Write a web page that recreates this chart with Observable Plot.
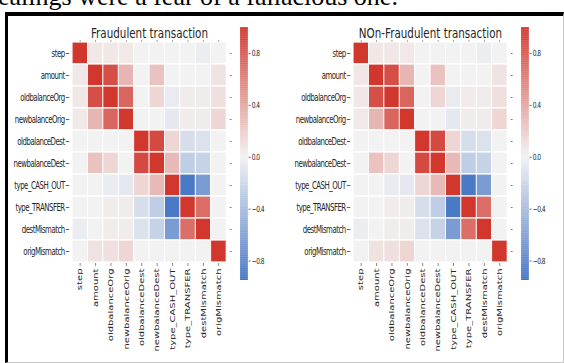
<!DOCTYPE html>
<html>
<head>
<meta charset="utf-8">
<script src="https://cdn.jsdelivr.net/npm/d3@7"></script>
<script src="https://cdn.jsdelivr.net/npm/@observablehq/plot@0.6"></script>
<style>
  html, body { margin: 0; padding: 0; background: #fff; width: 564px; height: 363px; overflow: hidden; position: relative; }
  #toptext { position: absolute; left: -15px; top: -18px; font-family: "Liberation Serif", serif; font-size: 26px; color: #000; white-space: nowrap; }
  #frame { position: absolute; left: 5px; top: 12px; width: 555px; height: 346px; border-left: 3px solid #000; border-top: 4px solid #000; border-right: 1px solid #c8c8c8; border-bottom: 1px solid #c8c8c8; }
  .panel { position: absolute; top: 0; height: 363px; transform: scaleX(0.7); transform-origin: 0 0; }
  .panel > div { position: absolute; top: 0; }
  svg { overflow: visible; }
  g[aria-label="y-axis tick label"] text { letter-spacing: -0.7px; }
</style>
</head>
<body>
<div id="toptext">dealings were a fear of a fallacious one.</div>
<div id="frame"></div>
<div class="panel" id="left" style="left:0px; width:403px;"><div class="hm"></div><div class="cb"></div></div>
<div class="panel" id="right" style="left:281px; width:403px;"><div class="hm"></div><div class="cb"></div></div>
<script>
// ---- data ----
const features = ["step", "amount", "oldbalanceOrg", "newbalanceOrig", "oldbalanceDest",
  "newbalanceDest", "type_CASH_OUT", "type_TRANSFER", "destMismatch", "origMismatch"];

const fraudTitle = "Fraudulent transaction";
const nonFraudTitle = "NOn-Fraudulent transaction";

const fraudCorr = [
  [1.00, 0.06, 0.06, 0.05, 0.00, 0.00, 0.00, 0.00, -0.04, 0.00],
  [0.06, 1.00, 0.87, 0.32, 0.00, 0.25, 0.00, 0.00, 0.00, 0.08],
  [0.06, 0.87, 1.00, 0.75, 0.00, 0.15, -0.05, 0.04, 0.03, 0.10],
  [0.05, 0.32, 0.75, 1.00, 0.00, 0.00, -0.07, 0.03, 0.03, 0.15],
  [0.00, 0.00, 0.00, 0.00, 1.00, 0.90, 0.15, -0.15, -0.12, 0.00],
  [0.00, 0.25, 0.15, 0.00, 0.90, 1.00, 0.30, -0.28, -0.24, 0.00],
  [0.00, 0.00, -0.05, -0.07, 0.15, 0.30, 1.00, -0.92, -0.65, 0.00],
  [0.00, 0.00, 0.04, 0.03, -0.15, -0.28, -0.92, 1.00, 0.70, 0.00],
  [-0.04, 0.00, 0.03, 0.03, -0.12, -0.24, -0.65, 0.70, 1.00, 0.00],
  [0.00, 0.08, 0.10, 0.15, 0.00, 0.00, 0.00, 0.00, 0.00, 1.00]
];

const nonFraudCorr = [
  [1.00, 0.06, 0.06, 0.05, 0.00, 0.00, 0.00, 0.00, -0.04, 0.00],
  [0.06, 1.00, 0.87, 0.32, 0.00, 0.25, 0.00, 0.00, 0.00, 0.08],
  [0.06, 0.87, 1.00, 0.75, 0.00, 0.15, -0.05, 0.04, 0.03, 0.10],
  [0.05, 0.32, 0.75, 1.00, 0.00, 0.00, -0.07, 0.03, 0.03, 0.15],
  [0.00, 0.00, 0.00, 0.00, 1.00, 0.90, 0.15, -0.15, -0.12, 0.00],
  [0.00, 0.25, 0.15, 0.00, 0.90, 1.00, 0.30, -0.28, -0.24, 0.00],
  [0.00, 0.00, -0.05, -0.07, 0.15, 0.30, 1.00, -0.92, -0.65, 0.00],
  [0.00, 0.00, 0.04, 0.03, -0.15, -0.28, -0.92, 1.00, 0.70, 0.00],
  [-0.04, 0.00, 0.03, 0.03, -0.12, -0.24, -0.65, 0.70, 1.00, 0.00],
  [0.00, 0.08, 0.10, 0.15, 0.00, 0.00, 0.00, 0.00, 0.00, 1.00]
];

const colorbarTicks = [-0.8, -0.4, 0.0, 0.4, 0.8];
const colorbarDomain = [-0.95, 1.0];

// ---- scales / styles ----
const colorScale = {type: "linear", domain: [-1, 0, 1], range: ["#3b6ec2", "#f2f2f2", "#d1372d"], interpolate: "rgb"};
const textColor = "#262626";
const fontFamily = "DejaVu Sans, sans-serif";

function heatmap(matrix, title) {
  const cells = [];
  matrix.forEach((row, i) => row.forEach((v, j) => cells.push({row: features[i], col: features[j], v})));
  return Plot.plot({
    width: 403, height: 363,
    marginLeft: 99, marginRight: 76, marginTop: 41, marginBottom: 100,
    x: {domain: features, padding: 0, axis: null},
    y: {domain: features, padding: 0, axis: null},
    color: colorScale,
    style: {fontFamily, fontSize: "9px", color: textColor, background: "transparent"},
    marks: [
      Plot.cell(cells, {x: "col", y: "row", fill: "v", stroke: "white", strokeWidth: 1.2}),
      Plot.axisY({anchor: "left", tickSize: 5, tickPadding: 2, label: null, stroke: "#444", fontSize: 10}),
      Plot.axisY({anchor: "right", tickSize: 3, label: null, fill: "none", stroke: "#777"}),
      Plot.axisX({anchor: "bottom", tickSize: 3, tickPadding: 2, tickRotate: -90, label: null, stroke: "#777", fontSize: 10}),
      Plot.axisX({anchor: "top", tickSize: 2, label: null, fill: "none", stroke: "#999"}),
      Plot.text([title], {frameAnchor: "top", dy: -4, lineAnchor: "bottom", fontSize: 14.8, fill: textColor})
    ]
  });
}

function colorbar() {
  const stepSize = 0.005;
  const ramp = d3.range(colorbarDomain[0], colorbarDomain[1], stepSize);
  return Plot.plot({
    width: 60, height: 263,
    marginLeft: 0, marginRight: 49, marginTop: 5, marginBottom: 5,
    x: {domain: [0, 1], axis: null},
    y: {domain: colorbarDomain, axis: null},
    color: colorScale,
    style: {fontFamily, fontSize: "8.5px", color: textColor, background: "transparent"},
    marks: [
      Plot.rect(ramp, {x1: () => 0, x2: () => 1, y1: d => d, y2: d => Math.min(d + stepSize * 1.5, colorbarDomain[1]), fill: d => d}),
      Plot.axisY({anchor: "right", ticks: colorbarTicks, tickSize: 3, tickPadding: 2, tickFormat: d3.format(".1f"), label: null, stroke: "#555", fontSize: 8.5})
    ]
  });
}

function mount(id, matrix, title) {
  const panel = document.getElementById(id);
  const hm = panel.querySelector(".hm");
  hm.style.left = "0px";
  hm.appendChild(heatmap(matrix, title));
  const cb = panel.querySelector(".cb");
  cb.style.left = "343px";
  cb.style.top = "22px";
  cb.appendChild(colorbar());
}

mount("left", fraudCorr, fraudTitle);
mount("right", nonFraudCorr, nonFraudTitle);
</script>
</body>
</html>
